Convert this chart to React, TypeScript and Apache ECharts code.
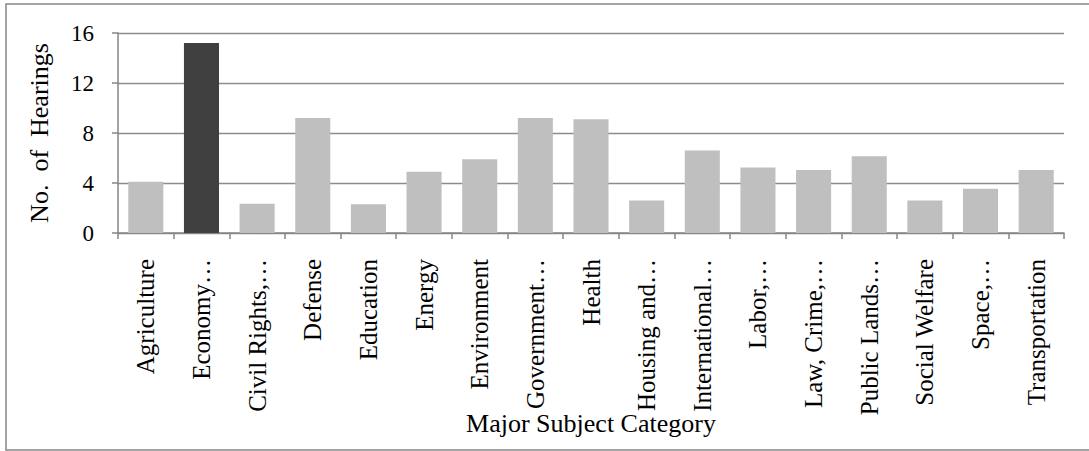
import React, { useEffect, useRef } from "react";
import * as echarts from "echarts";

const categories = [
  "Agriculture",
  "Economy…",
  "Civil Rights,…",
  "Defense",
  "Education",
  "Energy",
  "Environment",
  "Government…",
  "Health",
  "Housing and…",
  "International…",
  "Labor,…",
  "Law, Crime,…",
  "Public Lands…",
  "Social Welfare",
  "Space,…",
  "Transportation",
];

const hearings = [4.1, 15.2, 2.35, 9.2, 2.3, 4.9, 5.9, 9.2, 9.1, 2.6, 6.6, 5.25, 5.05, 6.15, 2.6, 3.55, 5.05];

const highlighted = ["Economy…"];

const yTicks = [0, 4, 8, 12, 16];

const FONT = "Liberation Serif";

export default function App() {
  const ref = useRef<HTMLDivElement>(null);
  useEffect(() => {
    if (!ref.current) return;
    const chart = echarts.init(ref.current, null, { renderer: "svg" });
    chart.setOption({
      animation: false,
      backgroundColor: "#ffffff",
      textStyle: { fontFamily: FONT },
      graphic: [
        {
          type: "rect",
          shape: { x: 6, y: 4, width: 1090, height: 446 },
          style: { fill: "none", stroke: "#868686", lineWidth: 1.5 },
          silent: true,
        },
      ],
      grid: { left: 118, right: 25, top: 33, bottom: 218, containLabel: false },
      xAxis: {
        type: "category",
        data: categories,
        name: "Major Subject Category",
        nameLocation: "middle",
        nameGap: 177,
        nameMoveOverlap: false,
        nameTextStyle: { fontFamily: FONT, fontSize: 26, color: "#000" },
        axisLine: { lineStyle: { color: "#868686", width: 1.5 } },
        axisTick: { show: true, length: 6, lineStyle: { color: "#868686", width: 1.5 } },
        axisLabel: {
          rotate: 90,
          interval: 0,
          margin: 26,
          fontFamily: FONT,
          fontSize: 25,
          color: "#000",
        },
      },
      yAxis: {
        type: "value",
        min: yTicks[0],
        max: yTicks[yTicks.length - 1],
        interval: 4,
        name: "No.  of  Hearings",
        nameLocation: "middle",
        nameGap: 66,
        nameMoveOverlap: false,
        nameTextStyle: { fontFamily: FONT, fontSize: 26, color: "#000" },
        axisLine: { show: true, lineStyle: { color: "#868686", width: 1.5 } },
        axisTick: { show: true, length: 6, lineStyle: { color: "#868686", width: 1.5 } },
        axisLabel: { margin: 24, fontFamily: FONT, fontSize: 23, color: "#000" },
        splitLine: { show: true, lineStyle: { color: "#8c8c8c", width: 1.3 } },
      },
      series: [
        {
          type: "bar",
          barCategoryGap: "37%",
          data: categories.map((c, i) => ({
            value: hearings[i],
            itemStyle: { color: highlighted.includes(c) ? "#404040" : "#bfbfbf" },
          })),
        },
      ],
    });
    return () => chart.dispose();
  }, []);
  return (
    <div
      ref={ref}
      style={{ position: "absolute", left: 0, top: 0, width: 1089, height: 451 }}
    />
  );
}
